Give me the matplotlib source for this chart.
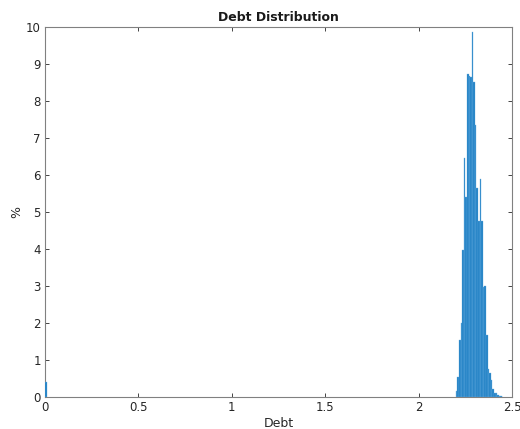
import numpy as np
import matplotlib
matplotlib.use("Agg")
import matplotlib.pyplot as plt

# bin centres (debt) and share of households (%)
debt_bins = [0.004,
             2.2035, 2.2120, 2.2205, 2.2290, 2.2375, 2.2460, 2.2545, 2.2630,
             2.2715, 2.2800, 2.2885, 2.2970, 2.3055, 2.3140, 2.3225, 2.3310,
             2.3395, 2.3480, 2.3565, 2.3650, 2.3735, 2.3820, 2.3905, 2.3990,
             2.4075, 2.4160, 2.4245, 2.4330, 2.4415, 2.4500]
pct = [0.40,
       0.15, 0.55, 1.55, 2.00, 3.97, 6.45, 5.40, 8.73,
       8.68, 8.66, 9.87, 8.52, 7.35, 5.65, 4.75, 5.90,
       4.77, 2.98, 3.00, 1.68, 0.75, 0.65, 0.45, 0.22,
       0.12, 0.10, 0.05, 0.03, 0.02, 0.01]
bin_w = 0.0085

fig = plt.figure(figsize=(5.2, 4.29), dpi=100)
ax = fig.add_axes([0.0865, 0.0746, 0.8981, 0.8624])
ax.bar(debt_bins, pct, width=bin_w, color='#1f7fc4', edgecolor='#6aaee0',
       linewidth=0.25, zorder=3)

ax.set_xlim(0, 2.5)
ax.set_ylim(0, 10)
ax.set_xticks([0, 0.5, 1, 1.5, 2, 2.5])
ax.set_xticklabels(['0', '0.5', '1', '1.5', '2', '2.5'])
ax.set_yticks(range(0, 11))
ax.tick_params(direction='in', top=True, right=True, length=3, width=0.6,
               labelsize=8.5, colors='#262626', pad=3)
for s in ax.spines.values():
    s.set_color('#808080')
    s.set_linewidth(0.8)

ax.set_title('Debt Distribution', fontsize=9, fontweight='bold', color='#1a1a1a', pad=4)
ax.set_xlabel('Debt', fontsize=9, color='#262626', labelpad=2)
ax.set_ylabel('%', fontsize=9, color='#262626', labelpad=2)

fig.savefig('out.png', dpi=100)
